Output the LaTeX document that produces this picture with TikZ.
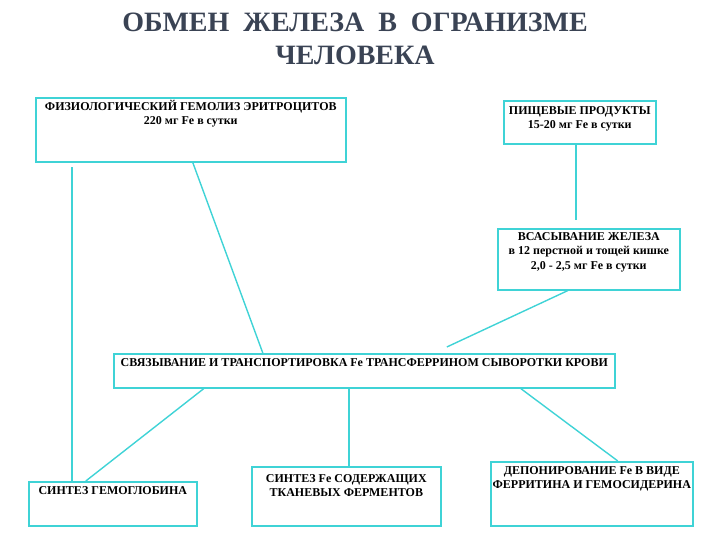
\documentclass[tikz,border=0pt]{standalone}
\usepackage{fontspec}
\setmainfont{Liberation Serif}
\usetikzlibrary{positioning}

\definecolor{linecyan}{HTML}{3FD3D6}
\definecolor{titleslate}{HTML}{3A4354}

\begin{document}
\begin{tikzpicture}[
  x=1pt,y=-1pt,
  stage/.style={draw=linecyan,line width=1.6pt,inner sep=0pt,anchor=north west},
  stagetext/.style={font=\bfseries\fontsize{12}{14.5}\selectfont,align=center,inner sep=0pt},
  flow/.style={draw=linecyan,line width=1.4pt}
]
  \useasboundingbox (0,0) rectangle (720,540);

  \node[font=\bfseries\fontsize{28}{33}\selectfont,text=titleslate,align=center] (title) at (355,39)
    {ОБМЕН\ \ ЖЕЛЕЗА\ \ В\ \ ОГРАНИЗМЕ\\ЧЕЛОВЕКА};

  % boxes
  \node[stage,minimum width=310pt,minimum height=64pt] (hemolysis) at (35,97) {};
  \node[stagetext,below=3pt of hemolysis.north] (hemolysistext)
    {ФИЗИОЛОГИЧЕСКИЙ ГЕМОЛИЗ ЭРИТРОЦИТОВ\\220 мг Fe в сутки};

  \node[stage,minimum width=152pt,minimum height=43pt] (food) at (503,100) {};
  \node[stagetext,below=6pt of food.north] (foodtext)
    {ПИЩЕВЫЕ ПРОДУКТЫ\\15-20 мг Fe в сутки};

  \node[stage,minimum width=182pt,minimum height=61pt] (absorption) at (497,228) {};
  \node[stagetext,below=4pt of absorption.north] (absorptiontext)
    {ВСАСЫВАНИЕ ЖЕЛЕЗА\\в 12 перстной и тощей кишке\\2,0 - 2,5 мг Fe в сутки};

  \node[stage,minimum width=501pt,minimum height=34pt] (binding) at (113,353) {};
  \node[stagetext,below=5pt of binding.north] (bindingtext)
    {СВЯЗЫВАНИЕ И ТРАНСПОРТИРОВКА Fe ТРАНСФЕРРИНОМ СЫВОРОТКИ КРОВИ};

  \node[stage,minimum width=168pt,minimum height=44pt] (hemoglobin) at (28,481) {};
  \node[stagetext,below=5pt of hemoglobin.north] (hemoglobintext)
    {СИНТЕЗ ГЕМОГЛОБИНА};

  \node[stage,minimum width=189pt,minimum height=59pt] (enzymes) at (251,466) {};
  \node[stagetext,below=8pt of enzymes.north] (enzymestext)
    {СИНТЕЗ Fe СОДЕРЖАЩИХ\\ТКАНЕВЫХ ФЕРМЕНТОВ};

  \node[stage,minimum width=202pt,minimum height=64pt] (deposit) at (490,461) {};
  \node[stagetext,below=5pt of deposit.north] (deposittext)
    {ДЕПОНИРОВАНИЕ Fe В ВИДЕ\\ФЕРРИТИНА И ГЕМОСИДЕРИНА};

  \coordinate (returnend) at (72,167);

  % connectors
  \draw[flow] ([xshift=2pt]hemolysis.south) -- ([xshift=-101.5pt]binding.north);
  \draw[flow] ([xshift=-4pt]food.south) -- ([xshift=-4pt,yshift=8pt]food.south |- absorption.north);
  \draw[flow] ([xshift=-21pt]absorption.south) -- ([xshift=82.5pt,yshift=6pt]binding.north);
  \draw[flow] ([xshift=-160.5pt]binding.south) -- ([xshift=-27pt]hemoglobin.north);
  \draw[flow] (returnend |- hemoglobin.north) -- (returnend);
  \draw[flow] ([xshift=-15.5pt]binding.south) -- ([xshift=-15.5pt]binding.south |- enzymes.north);
  \draw[flow] ([xshift=156.5pt]binding.south) -- ([xshift=26pt]deposit.north);
\end{tikzpicture}
\end{document}
